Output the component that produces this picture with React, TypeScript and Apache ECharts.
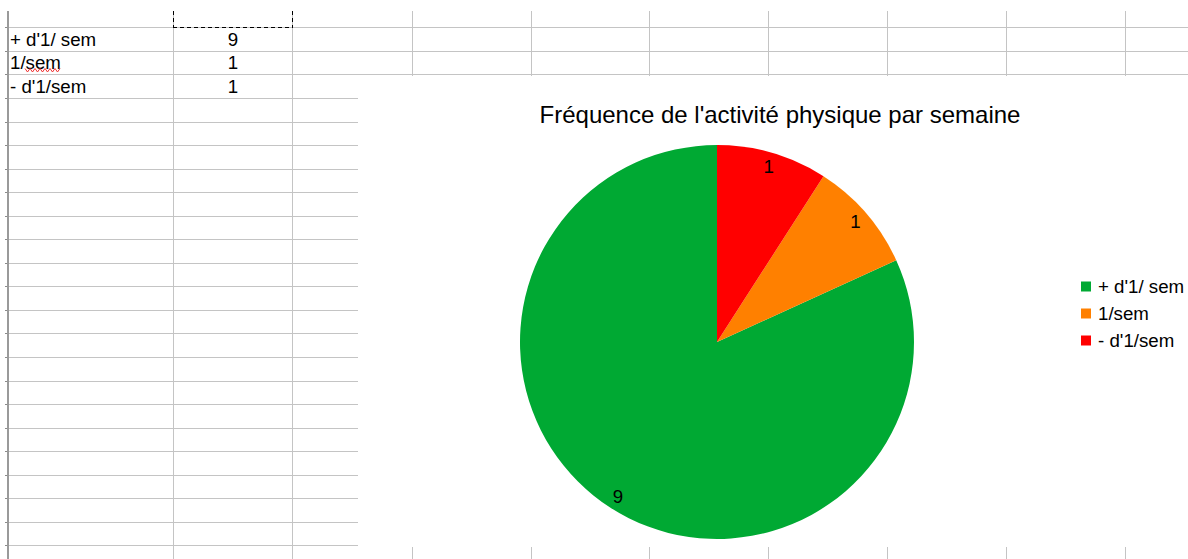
import React, { useEffect, useRef } from "react";
import * as echarts from "echarts";

// ---- data ----
const categories = ["+ d'1/ sem", "1/sem", "- d'1/sem"];
const values = [9, 1, 1];
const colors = ["#00a933", "#ff8000", "#ff0000"];
const chartTitle = "Fréquence de l'activité physique par semaine";

// ---- layout (spreadsheet background) ----
const W = 1188;
const H = 559;
const FONT = "'Liberation Sans', Arial, sans-serif";
const colX = [8, 173, 292, 411.5, 530.5, 649, 768, 887, 1006, 1125];
const ROW_Y0 = 27.3;
const ROW_STEP = 23.55;
const ROW_COUNT = 23;
const CHART_LEFT = 358;
const CHART_TOP = 75;
const CHART_BOTTOM = 547;
const GRID = "#c4c4c4";
const TEXT_SIZE = 18.7;

function px(v: number) {
  return Math.round(v) + 0.5;
}

function buildSheet() {
  const els: any[] = [];
  const rowYs: number[] = [];
  for (let k = 0; k < ROW_COUNT; k++) rowYs.push(ROW_Y0 + ROW_STEP * k);

  rowYs.forEach((y) => {
    const yy = px(y);
    const x2 = y < CHART_TOP ? W : CHART_LEFT;
    els.push({
      type: "line",
      shape: { x1: 8, y1: yy, x2, y2: yy },
      style: { stroke: GRID, lineWidth: 1 },
      silent: true,
    });
    els.push({
      type: "line",
      shape: { x1: 5, y1: yy, x2: 8, y2: yy },
      style: { stroke: "#8a8a8a", lineWidth: 1 },
      silent: true,
    });
  });

  colX.forEach((x, i) => {
    const xx = px(x);
    if (i === 0) {
      els.push({
        type: "line",
        shape: { x1: 8, y1: 11, x2: 8, y2: H },
        style: { stroke: "#9a9a9a", lineWidth: 2 },
        silent: true,
      });
    } else if (x < CHART_LEFT) {
      els.push({
        type: "line",
        shape: { x1: xx, y1: 11, x2: xx, y2: H },
        style: { stroke: GRID, lineWidth: 1 },
        silent: true,
      });
    } else {
      els.push({
        type: "line",
        shape: { x1: xx, y1: 11, x2: xx, y2: CHART_TOP + 1 },
        style: { stroke: GRID, lineWidth: 1 },
        silent: true,
      });
      els.push({
        type: "line",
        shape: { x1: xx, y1: CHART_BOTTOM, x2: xx, y2: H },
        style: { stroke: GRID, lineWidth: 1 },
        silent: true,
      });
    }
  });

  // dashed selection around B1
  const dash = { stroke: "#000", lineWidth: 1, lineDash: [4, 3] };
  els.push({ type: "line", shape: { x1: px(173), y1: 11, x2: px(173), y2: px(27) }, style: dash, silent: true });
  els.push({ type: "line", shape: { x1: px(292), y1: 11, x2: px(292), y2: px(27) }, style: dash, silent: true });
  els.push({ type: "line", shape: { x1: 173, y1: px(26.7), x2: 293, y2: px(26.7) }, style: dash, silent: true });

  // cell texts
  categories.forEach((c, i) => {
    const cy = ROW_Y0 + ROW_STEP * (i + 0.5);
    els.push({
      type: "text",
      x: 10,
      y: cy,
      style: { text: c, fontSize: TEXT_SIZE, fontFamily: FONT, fill: "#000", verticalAlign: "middle", align: "left" },
      silent: true,
    });
    els.push({
      type: "text",
      x: 233,
      y: cy,
      style: { text: String(values[i]), fontSize: TEXT_SIZE, fontFamily: FONT, fill: "#000", verticalAlign: "middle", align: "center" },
      silent: true,
    });
  });

  // spell-check wavy underline under "sem"
  const pts: number[][] = [];
  for (let x = 25, k = 0; x <= 62; x += 2.5, k++) pts.push([x, k % 2 === 0 ? 68.5 : 72]);
  els.push({
    type: "polyline",
    shape: { points: pts },
    style: { stroke: "#f03030", lineWidth: 1, fill: null },
    silent: true,
  });

  return els;
}

export default function App() {
  const ref = useRef<HTMLDivElement>(null);

  useEffect(() => {
    if (!ref.current) return;
    const chart = echarts.init(ref.current, undefined, { renderer: "svg" });
    const pieData = categories.map((name, i) => ({
      name,
      value: values[i],
      itemStyle: { color: colors[i] },
    }));
    const labelData = categories.map((name, i) => ({
      name,
      value: values[i],
      itemStyle: { color: "rgba(0,0,0,0)" },
    }));
    const center = [717, 342];
    const R = 197;
    chart.setOption({
      animation: false,
      backgroundColor: "#ffffff",
      title: {
        text: chartTitle,
        left: 780,
        top: 102,
        textAlign: "center",
        padding: 0,
        textStyle: { fontSize: 24, fontWeight: "normal", color: "#000", fontFamily: FONT },
      },
      legend: {
        orient: "vertical",
        left: 1081,
        top: 277,
        padding: 0,
        itemWidth: 10,
        itemHeight: 10,
        itemGap: 8,
        icon: "rect",
        selectedMode: false,
        textStyle: { fontSize: TEXT_SIZE, color: "#000", fontFamily: FONT, padding: [0, 0, 0, 2] },
        data: categories.map((name, i) => ({ name, itemStyle: { color: colors[i] } })),
      },
      graphic: buildSheet(),
      series: [
        {
          type: "pie",
          name: "pie",
          center,
          radius: [0, R],
          startAngle: 90,
          clockwise: false,
          label: { show: false },
          labelLine: { show: false },
          emphasis: { disabled: true },
          silent: true,
          data: pieData,
        },
        {
          type: "pie",
          name: "labels",
          center,
          radius: [R * 0.83, R],
          startAngle: 90,
          clockwise: false,
          label: {
            show: true,
            position: "inside",
            formatter: "{c}",
            fontSize: TEXT_SIZE,
            color: "#000",
            fontFamily: FONT,
          },
          labelLine: { show: false },
          emphasis: { disabled: true },
          silent: true,
          data: labelData,
        },
      ],
    });
    return () => chart.dispose();
  }, []);

  return (
    <div
      ref={ref}
      style={{ position: "absolute", left: 0, top: 0, width: W, height: H, background: "#fff" }}
    />
  );
}
